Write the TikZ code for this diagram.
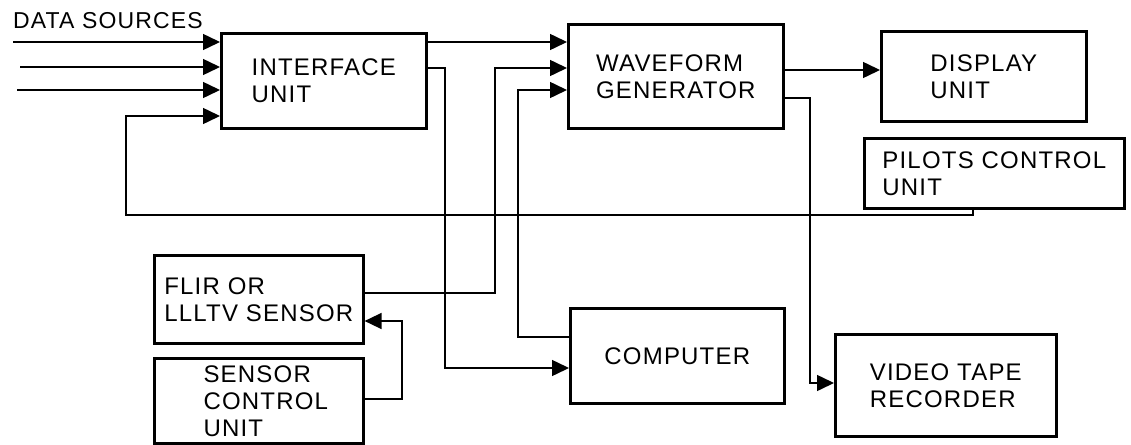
\documentclass[tikz,border=0pt]{standalone}
\usepackage{fontspec}
\setmainfont{Liberation Sans}
\newfontfamily\labfont[LetterSpace=5]{Liberation Sans}
\usetikzlibrary{arrows.meta,calc}
\begin{document}
\begin{tikzpicture}[x=1pt,y=-1pt,
  box/.style={draw, line width=2.6pt, anchor=north west, inner sep=0pt, align=left,
              font=\labfont\fontsize{24}{27}\selectfont},
  conn/.style={line width=1.5pt},
  arr/.style={conn, -{Triangle[length=17pt,width=16pt]}},
  lbl/.style={inner sep=0pt, anchor=base west, font=\labfont\fontsize{23}{27}\selectfont}]
\useasboundingbox (0,0) rectangle (1131,444);

% boxes
\node[box, minimum width=205pt, minimum height=95pt]  (iface) at (220,32)  {INTERFACE\\UNIT};
\node[box, minimum width=215pt, minimum height=104pt] (wave)  at (567,23)  {WAVEFORM\\GENERATOR};
\node[box, minimum width=205pt, minimum height=90pt]  (disp)  at (880,30)  {DISPLAY\\UNIT};
\node[box, minimum width=260pt, minimum height=70pt]  (pilot) at (863,137) {PILOTS CONTROL\\UNIT};
\node[box, minimum width=209pt, minimum height=88pt]  (flir)  at (153,254) {FLIR OR\\LLLTV SENSOR};
\node[box, minimum width=209pt, minimum height=85pt]  (sens)  at (153,357) {\hspace*{14pt}SENSOR\\\hspace*{14pt}CONTROL\\\hspace*{14pt}UNIT};
\node[box, minimum width=214pt, minimum height=95pt]  (comp)  at (569,307) {COMPUTER};
\node[box, minimum width=221pt, minimum height=102pt] (vtr)   at (834,333) {VIDEO TAPE\\RECORDER};

% label
\node[lbl] (dslbl) at (13,29) {DATA SOURCES};

% data source inputs
\coordinate (ds1) at (13,42);
\coordinate (ds2) at (20,67);
\coordinate (ds3) at (17,90);
\draw[arr] (ds1) -- (iface.west |- ds1);
\draw[arr] (ds2) -- (iface.west |- ds2);
\draw[arr] (ds3) -- (iface.west |- ds3);

% pilots control unit -> interface unit
\coordinate (fb1) at (126,215);
\draw[arr] ($(pilot.south west)+(110,0)$) |- (fb1) |- ($(iface.north west)+(0,84)$);

% interface -> waveform
\draw[arr] ($(iface.north east)+(0,10)$) -- ($(wave.north west)+(0,19)$);

% interface -> computer
\coordinate (ic1) at (445,368);
\draw[arr] ($(iface.north east)+(0,36)$) -| (ic1) -- ($(comp.north west)+(0,61)$);

% FLIR -> waveform
\coordinate (fw1) at (495,68);
\draw[arr] ($(flir.north east)+(0,39)$) -| (fw1) -- ($(wave.north west)+(0,45)$);

% computer -> waveform
\coordinate (cw1) at (518,90);
\draw[arr] ($(comp.north west)+(0,30)$) -| (cw1) -- ($(wave.north west)+(0,67)$);

% waveform -> display
\draw[arr] ($(wave.north east)+(0,47)$) -- ($(disp.north west)+(0,40)$);

% waveform -> video tape recorder
\coordinate (wv1) at (810,383);
\draw[arr] ($(wave.north east)+(0,75)$) -| (wv1) -- ($(vtr.north west)+(0,50)$);

% sensor control -> FLIR
\coordinate (sf1) at (402,321);
\draw[arr] ($(sens.north east)+(0,42)$) -| (sf1) -- ($(flir.north east)+(0,67)$);
\end{tikzpicture}
\end{document}
